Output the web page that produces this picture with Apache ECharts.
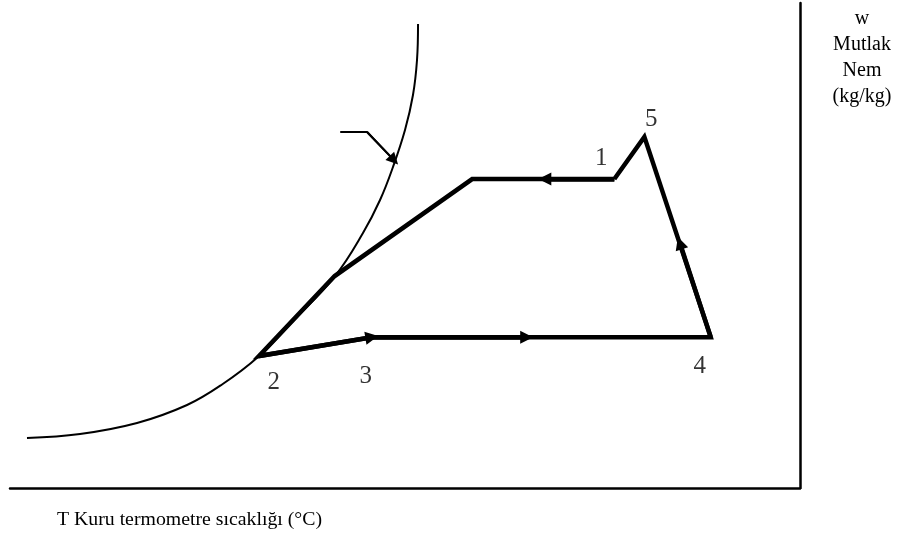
<!DOCTYPE html>
<html>
<head>
<meta charset="utf-8">
<script src="https://cdn.jsdelivr.net/npm/echarts@6/dist/echarts.min.js"></script>
<style>
  html, body { margin: 0; padding: 0; background: #fff; }
  #chart { width: 910px; height: 546px; }
</style>
</head>
<body>
<div id="chart"></div>
<script>
// Schematic psychrometric diagram: T (dry bulb) on x, w (humidity ratio) on y, both in relative units 0..100.

// Saturation curve (T, w)
const saturationT = [2.15, 8.86, 16.08, 22.41, 26.84, 31.39, 35.95, 41.14, 44.68, 46.84, 48.48, 50.0, 51.01, 51.52, 51.65];
const saturationW = [10.31, 11.13, 13.40, 17.11, 21.34, 27.01, 34.64, 43.71, 52.58, 59.38, 66.19, 73.81, 81.03, 88.25, 95.67];

// Process path: 1 -> cooling -> along saturation -> 2 -> 3 -> 4 -> 5 -> 1
const pathT = [76.5, 58.5, 41.1, 31.5, 45.8, 88.7, 80.3, 76.5];
const pathW = [63.7, 63.7, 43.7, 27.2, 31.1, 31.1, 72.4, 63.7];

// State points and their numbers
const stateNames = ['1', '2', '3', '4', '5'];
const stateT = [76.5, 31.5, 45.8, 88.7, 80.3];
const stateW = [63.7, 27.2, 31.1, 31.1, 72.4];

// Direction arrows: [from, tip] on the path
const arrowFrom = [[76.5, 63.7], [31.5, 27.2], [45.8, 31.1], [88.7, 31.1]];
const arrowTip  = [[67.7, 63.7], [45.8, 31.1], [65.4, 31.1], [84.8, 50.5]];

// Leader pointing at the saturation curve
const leaderT = [41.8, 45.2, 48.6];
const leaderW = [73.4, 73.4, 67.6];

const xAxisName = 'T Kuru termometre sıcaklığı (°C)';
const yAxisName = ['w', 'Mutlak', 'Nem', '(kg/kg)'];

const zip = (a, b) => a.map((v, i) => [v, b[i]]);

const labelOffsets = [[-13, -21], [15, 26], [-6, 39], [-11, 29], [7, -17]];

const chart = echarts.init(document.getElementById('chart'), null, { renderer: 'canvas' });

const FONT = '"Liberation Serif", "Times New Roman", serif';

chart.setOption({
  animation: false,
  backgroundColor: '#ffffff',
  grid: { left: 10, right: 110, top: 3, bottom: 58 },
  xAxis: {
    type: 'value', min: 0, max: 100,
    axisLine: { show: true, onZero: false, lineStyle: { color: '#000', width: 2.5 } },
    axisTick: { show: false }, axisLabel: { show: false }, splitLine: { show: false }
  },
  yAxis: {
    type: 'value', min: 0, max: 100, position: 'right',
    axisLine: { show: true, onZero: false, lineStyle: { color: '#000', width: 2.5 } },
    axisTick: { show: false }, axisLabel: { show: false }, splitLine: { show: false }
  },
  graphic: [
    {
      type: 'text', left: 57, top: 510,
      style: { text: xAxisName, font: '19.8px ' + FONT, fill: '#000' }
    },
    {
      type: 'text', x: 862, y: 6,
      style: { text: yAxisName.join('\n'), font: '20px ' + FONT, fill: '#000',
               align: 'center', lineHeight: 26 }
    }
  ],
  series: [
    {
      type: 'line', data: zip(saturationT, saturationW), smooth: 0.4,
      symbol: 'none', lineStyle: { color: '#000', width: 2 }, z: 2
    },
    {
      type: 'line', data: zip(pathT, pathW), symbol: 'none',
      lineStyle: { color: '#000', width: 4.5, join: 'miter' }, z: 3
    },
    {
      type: 'lines', coordinateSystem: 'cartesian2d', z: 4,
      symbol: ['none', 'triangle'], symbolSize: 13,
      lineStyle: { color: '#000', width: 4.5, opacity: 1, curveness: 0 },
      data: arrowFrom.map((f, i) => ({ coords: [f, arrowTip[i]] }))
    },
    {
      type: 'line', data: zip(leaderT, leaderW), symbol: 'none',
      lineStyle: { color: '#000', width: 2 }, z: 4
    },
    {
      type: 'lines', coordinateSystem: 'cartesian2d', z: 4,
      symbol: ['none', 'triangle'], symbolSize: 12,
      lineStyle: { color: '#000', width: 2, opacity: 1, curveness: 0 },
      data: [{ coords: [[leaderT[1], leaderW[1]], [leaderT[2], leaderW[2]]] }]
    },
    {
      type: 'scatter', symbolSize: 0, z: 5,
      data: stateNames.map((n, i) => ({
        name: n, value: [stateT[i], stateW[i]],
        label: { offset: labelOffsets[i] }
      })),
      label: {
        show: true, position: 'inside', formatter: '{b}',
        fontFamily: FONT, fontSize: 25, color: '#000',
        textBorderWidth: 0
      }
    }
  ]
});
</script>
</body>
</html>
